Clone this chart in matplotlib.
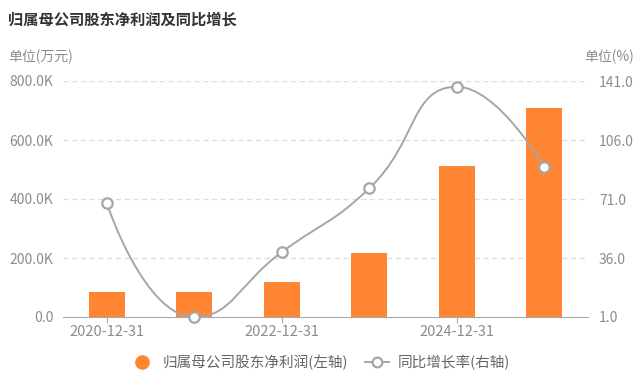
import matplotlib
matplotlib.use("Agg")
import matplotlib.pyplot as plt
import numpy as np
from matplotlib.path import Path
from matplotlib.patches import PathPatch
from matplotlib.lines import Line2D

plt.rcParams['font.family'] = ['Noto Sans CJK SC', 'DejaVu Sans']

categories = ["2020-12-31", "2021-12-31", "2022-12-31", "2023-12-31", "2024-12-31", "2025-12-31"]
profit = [85000, 85000, 119000, 217000, 512000, 708000]   # 万元
growth = [68.4, 1.0, 39.5, 77.3, 137.6, 89.8]              # %
left_ticks = [0, 200000, 400000, 600000, 800000]
left_labels = ["0.0", "200.0K", "400.0K", "600.0K", "800.0K"]
right_ticks = [1.0, 36.0, 71.0, 106.0, 141.0]

title = "归属母公司股东净利润及同比增长"
bar_name = "归属母公司股东净利润(左轴)"
line_name = "同比增长率(右轴)"

BAR_C = '#FF8533'
LINE_C = '#A6A6A6'
TXT_C = '#8C8C8C'

fig = plt.figure(figsize=(6.4, 3.84), dpi=100)
ax = fig.add_axes([63/640, 1-317/384, 525/640, 236/384])
ax2 = ax.twinx()

x = np.arange(len(categories))
ax.bar(x, profit, width=0.41, color=BAR_C, zorder=2)
ax.set_xlim(-0.5, len(categories)-0.5)
ax.set_ylim(0, 800000)
ax.set_yticks(left_ticks)
ax.set_yticklabels(left_labels)
ax2.set_ylim(1.0, 141.0)
ax2.set_yticks(right_ticks)
ax2.set_yticklabels([f"{v:.1f}" for v in right_ticks])

for t in left_ticks[1:]:
    ax.axhline(t, color='#DCDCDC', lw=0.9, ls=(0, (4, 3)), zorder=0)

shown = [i for i in range(len(categories)) if i % 2 == 0]
ax.set_xticks(shown)
ax.set_xticklabels([categories[i] for i in shown])
for a in (ax, ax2):
    for s in a.spines.values():
        s.set_visible(False)
ax.spines['bottom'].set_visible(True)
ax.spines['bottom'].set_color('#AAAAAA')
ax.tick_params(axis='x', colors='#AAAAAA', length=4, width=0.8, labelcolor=TXT_C, labelsize=10.5, pad=2)
ax.tick_params(axis='y', length=0, labelcolor=TXT_C, labelsize=10, pad=7)
ax2.tick_params(axis='y', length=0, labelcolor=TXT_C, labelsize=10, pad=8)
ax.set_zorder(1)
ax2.set_zorder(2)
ax.patch.set_visible(False)

# echarts-like smooth curve (with control-point clamping)
fig.canvas.draw()
T = ax2.transData
P = T.transform(np.column_stack([x, growth]))
smooth = 0.5
n = len(P)
verts = [tuple(P[0])]
codes = [Path.MOVETO]
cp0 = P[0].copy()
for k in range(1, n):
    cur = P[k]
    prev = P[k-1]
    if k == n-1:
        cp1 = cur.copy()
        nxt_cp0 = None
    else:
        nxt = P[k+1]
        v = nxt - prev
        lp = np.hypot(*(cur - prev))
        ln = np.hypot(*(nxt - cur))
        r = ln / (ln + lp)
        ncp = cur + v * smooth * r
        ncp = np.minimum(ncp, np.maximum(nxt, cur))
        ncp = np.maximum(ncp, np.minimum(nxt, cur))
        vv = ncp - cur
        cp1 = cur - vv * lp / ln
        cp1 = np.minimum(cp1, np.maximum(prev, cur))
        cp1 = np.maximum(cp1, np.minimum(prev, cur))
        vv = cur - cp1
        nxt_cp0 = cur + vv * ln / lp
    verts += [tuple(cp0), tuple(cp1), tuple(cur)]
    codes += [Path.CURVE4]*3
    cp0 = nxt_cp0
inv = T.inverted()
dverts = inv.transform(np.array(verts))
path = Path(dverts, codes)
ax2.add_patch(PathPatch(path, fc='none', ec=LINE_C, lw=1.4, zorder=3, clip_on=False))
ax2.plot(x, growth, ls='none', marker='o', ms=7.5, mfc='white', mec=LINE_C, mew=1.6, zorder=4, clip_on=False)

fig.text(8/640, 1-20/384, title, fontsize=11, fontweight='bold', color='#333333', va='center', ha='left')
fig.text(8/640, 1-57/384, "单位(万元)", fontsize=10, color=TXT_C, va='center', ha='left')
fig.text(634/640, 1-57/384, "单位(%)", fontsize=10, color=TXT_C, va='center', ha='right')

handles = [
    Line2D([], [], ls='none', marker='o', ms=9.5, mfc=BAR_C, mec=BAR_C),
    Line2D([], [], color=LINE_C, lw=1.4, marker='o', ms=7, mfc='white', mec=LINE_C, mew=1.6),
]
fig.legend(handles, [bar_name, line_name], loc='center', bbox_to_anchor=(0.5, 1-362/384),
           ncol=2, frameon=False, fontsize=10.5, labelcolor='#666666', handlelength=1.6,
           columnspacing=1.2, handletextpad=0.6)

fig.savefig("out.png", dpi=100)
